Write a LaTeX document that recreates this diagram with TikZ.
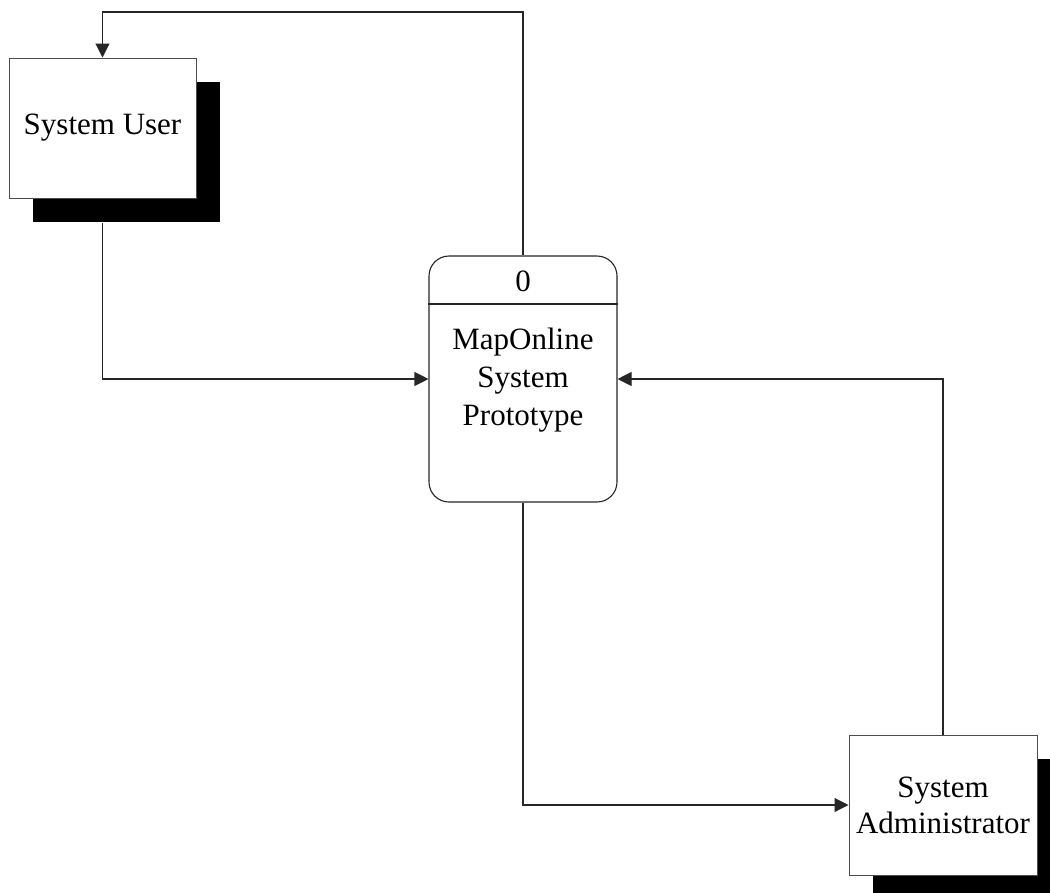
\documentclass[tikz,border=0pt]{standalone}
\usepackage{fontspec}
\setmainfont{Liberation Serif}
\usetikzlibrary{arrows.meta,shadows}
\begin{document}
\begin{tikzpicture}[x=1pt,y=-1pt,
  conn/.style={draw=black!85,line width=1.1pt},
  arr/.style={conn,-{Triangle[length=14pt,width=14pt]}},
  entity/.style={draw=black!70,line width=1pt,fill=white,align=center,
    font=\fontsize{31}{37}\selectfont,inner sep=0pt,
    drop shadow={shadow xshift=24pt,shadow yshift=-24pt,fill=black,opacity=1}},
  process/.style={draw=black!85,line width=1.1pt,rounded corners=20pt,fill=white,
    minimum width=188pt,minimum height=246pt,inner sep=0pt},
  lbl/.style={align=center,font=\fontsize{31}{38}\selectfont,inner sep=0pt}]
\useasboundingbox (0,0) rectangle (1050,892);
\clip (0,0) rectangle (1050,892);
\node[entity,minimum width=187pt,minimum height=140pt] (user) at (102.5,128) {System User};
\node[entity,minimum width=188pt,minimum height=140pt] (admin) at (943,805) {System\\[-1pt]Administrator};
\node[process] (proc) at (523,379) {};
\draw[conn] (proc.west |- 0,304) coordinate (dl) -- (proc.east |- 0,304) coordinate (dr);
\node[lbl] (num) at (523,281) {0};
\node[lbl] (ptext) at (523,380) {MapOnline\\System\\Prototype};
\coordinate (tr) at (523,12);
\coordinate (tl) at (102.5,12);
\coordinate (ushadow) at ([yshift=-24pt]user.south);
\draw[arr] (proc.north) -- (tr) -- (tl) -- (user.north);
\draw[arr] (ushadow) |- (proc.west);
\draw[arr] (admin.north) |- (proc.east);
\draw[arr] (proc.south) |- (admin.west);
\end{tikzpicture}
\end{document}
